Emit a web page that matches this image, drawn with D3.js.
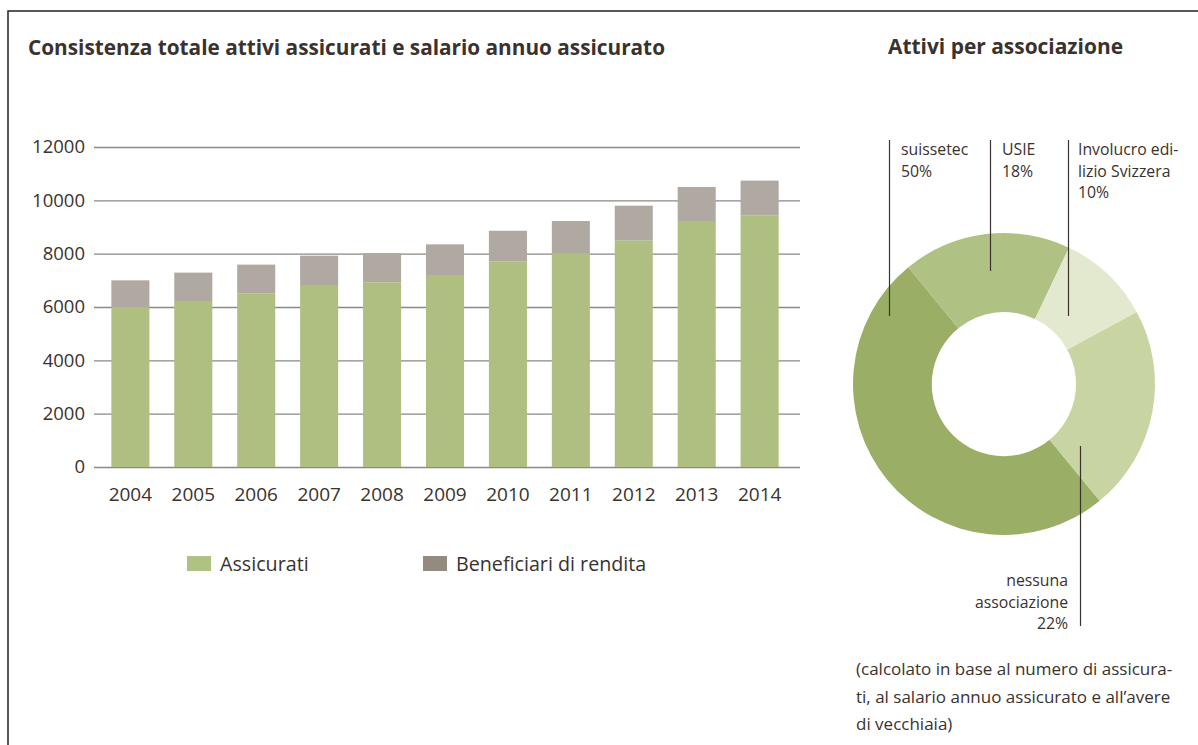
<!DOCTYPE html>
<html>
<head>
<meta charset="utf-8">
<script src="https://cdn.jsdelivr.net/npm/d3@7"></script>
<style>
  body { margin: 0; background: #fff; }
  text { font-family: "Open Sans", Lato, sans-serif; fill: #3a322e; }
</style>
</head>
<body>
<div class="chart"></div>
<script>
// Data
const years = ['2004', '2005', '2006', '2007', '2008', '2009', '2010', '2011', '2012', '2013', '2014'];
const assicurati = [6000, 6225, 6500, 6825, 6925, 7200, 7710, 8010, 8500, 9225, 9440];
const beneficiari = [1000, 1065, 1090, 1100, 1100, 1150, 1150, 1215, 1300, 1275, 1300];
const yTicks = [0, 2000, 4000, 6000, 8000, 10000, 12000];

const assocNames = ['suissetec', 'USIE', 'Involucro edilizio Svizzera', 'nessuna associazione'];
const assocShares = [50, 18, 10, 22];
const assocColors = ['#9aae66', '#b0c184', '#e3e9cf', '#c8d5a3'];

const width = 1198;
const height = 745;
const font = '"Open Sans", Lato, sans-serif';

const svg = d3.select('.chart')
    .append('svg')
    .attr('width', width)
    .attr('height', height);

// Frame
svg.append('path')
    .attr('d', 'M8,745 L8,11 L1198,11')
    .attr('fill', 'none')
    .attr('stroke', '#222')
    .attr('stroke-width', 1.5);

// Titles
svg.append('text')
    .attr('x', 28).attr('y', 55)
    .attr('textLength', 637).attr('lengthAdjust', 'spacingAndGlyphs')
    .style('font-size', '22px').style('font-weight', 'bold')
    .text('Consistenza totale attivi assicurati e salario annuo assicurato');

svg.append('text')
    .attr('x', 888).attr('y', 54)
    .attr('textLength', 235).attr('lengthAdjust', 'spacingAndGlyphs')
    .style('font-size', '22px').style('font-weight', 'bold')
    .text('Attivi per associazione');

// Bar chart
const xScale = d3.scaleBand()
    .domain(years)
    .range([100, 790])
    .paddingInner(0.395)
    .paddingOuter(0.18);

const yScale = d3.scaleLinear()
    .domain([0, 12000])
    .range([467, 147]);

const yAxis = d3.axisLeft(yScale)
    .tickValues(yTicks)
    .tickFormat(d3.format('d'))
    .tickSizeInner(-(800 - 94))
    .tickSizeOuter(0);

const yAxisDraw = svg.append('g')
    .attr('class', 'y axis')
    .attr('transform', 'translate(94,0)');
yAxis(yAxisDraw);
yAxisDraw.select('.domain').remove();
yAxisDraw.selectAll('line').attr('stroke', '#8c8882').attr('stroke-width', 1.3);
yAxisDraw.selectAll('text')
    .attr('x', -9)
    .style('font-size', '18.5px')
    .style('font-family', font)
    .attr('fill', '#3a322e');

const stackData = years.map((y, i) => ({ year: y, a: assicurati[i], b: beneficiari[i] }));

svg.selectAll('.bar-a')
    .data(stackData)
    .enter()
    .append('rect')
    .attr('class', 'bar-a')
    .attr('x', d => xScale(d.year))
    .attr('width', xScale.bandwidth())
    .attr('y', d => yScale(d.a))
    .attr('height', d => yScale(0) - yScale(d.a))
    .attr('fill', '#afbf82');

svg.selectAll('.bar-b')
    .data(stackData)
    .enter()
    .append('rect')
    .attr('class', 'bar-b')
    .attr('x', d => xScale(d.year))
    .attr('width', xScale.bandwidth())
    .attr('y', d => yScale(d.a + d.b))
    .attr('height', d => yScale(d.a) - yScale(d.a + d.b))
    .attr('fill', '#b0a9a1');

const xAxis = d3.axisBottom(xScale).tickSize(0).tickPadding(21);
const xAxisDraw = svg.append('g')
    .attr('class', 'x axis')
    .attr('transform', 'translate(0,467)');
xAxis(xAxisDraw);
xAxisDraw.select('.domain').remove();
xAxisDraw.selectAll('text')
    .style('font-size', '19px')
    .style('font-family', font)
    .attr('fill', '#3a322e');

// Legend
const legendItems = [
    { label: 'Assicurati', color: '#b0c184', x: 187 },
    { label: 'Beneficiari di rendita', color: '#938a80', x: 423 }
];
const legend = svg.selectAll('.legend')
    .data(legendItems)
    .enter()
    .append('g')
    .attr('class', 'legend')
    .attr('transform', d => 'translate(' + d.x + ',556)');
legend.append('rect')
    .attr('width', 24).attr('height', 15)
    .attr('fill', d => d.color);
legend.append('text')
    .attr('x', 33).attr('y', 15)
    .style('font-size', '19.7px')
    .text(d => d.label);

// Donut
const cx = 1004, cy = 384;
const pie = d3.pie()
    .sort(null)
    .value(d => d)
    .startAngle(140.7 * Math.PI / 180)
    .endAngle(140.7 * Math.PI / 180 + 2 * Math.PI);
const arc = d3.arc().innerRadius(72).outerRadius(151);

svg.append('g')
    .attr('transform', 'translate(' + cx + ',' + cy + ')')
    .selectAll('path')
    .data(pie(assocShares))
    .enter()
    .append('path')
    .attr('d', arc)
    .attr('fill', (d, i) => assocColors[i]);

// Leader lines
const leaders = [
    { x: 889.5, y1: 140, y2: 316 },
    { x: 990.5, y1: 140, y2: 271 },
    { x: 1068.5, y1: 140, y2: 316 },
    { x: 1080.5, y1: 446, y2: 626 }
];
svg.selectAll('.leader')
    .data(leaders)
    .enter()
    .append('line')
    .attr('class', 'leader')
    .attr('x1', d => d.x).attr('x2', d => d.x)
    .attr('y1', d => d.y1).attr('y2', d => d.y2)
    .attr('stroke', '#3a322e')
    .attr('stroke-width', 1.2);

// Donut labels
const donutLabels = [
    { x: 901, y: 155, anchor: 'start', lines: ['suissetec', assocShares[0] + '%'] },
    { x: 1002, y: 155, anchor: 'start', lines: ['USIE', assocShares[1] + '%'] },
    { x: 1078, y: 155, anchor: 'start', lines: ['Involucro edi-', 'lizio Svizzera', assocShares[2] + '%'] },
    { x: 1068, y: 586, anchor: 'end', lines: ['nessuna', 'associazione', assocShares[3] + '%'] }
];
donutLabels.forEach(l => {
    const t = svg.append('text')
        .attr('text-anchor', l.anchor)
        .style('font-size', '15.8px');
    l.lines.forEach((line, i) => {
        t.append('tspan')
            .attr('x', l.x)
            .attr('y', l.y + i * 21.5)
            .text(line);
    });
});

// Footnote
const noteLines = [
    '(calcolato in base al numero di assicura-',
    'ti, al salario annuo assicurato e all\u2019avere',
    'di vecchiaia)'
];
const note = svg.append('text').style('font-size', '17px');
noteLines.forEach((line, i) => {
    note.append('tspan')
        .attr('x', 856)
        .attr('y', 675 + i * 27.5)
        .text(line);
});
</script>
</body>
</html>
